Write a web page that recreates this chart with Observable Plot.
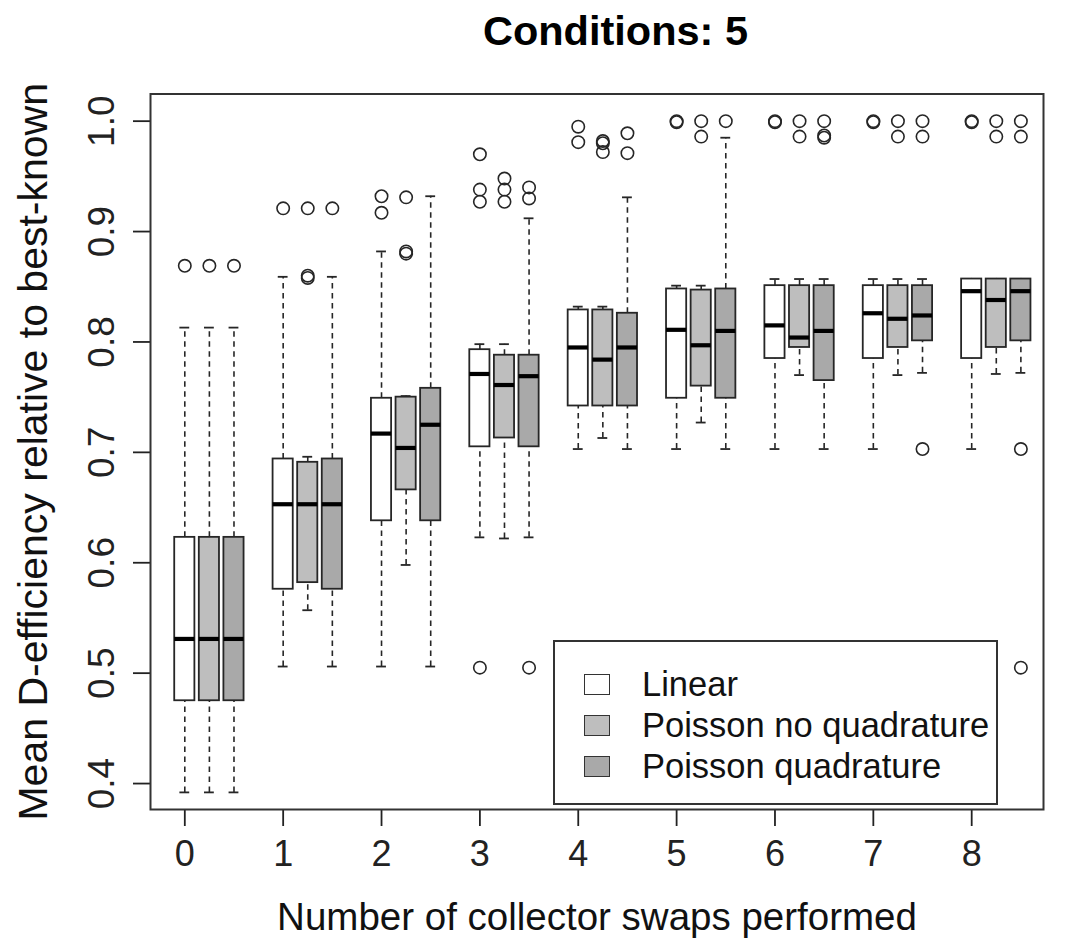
<!DOCTYPE html>
<html>
<head>
<meta charset="utf-8">
<script src="https://cdn.jsdelivr.net/npm/d3@7"></script>
<script src="https://cdn.jsdelivr.net/npm/@observablehq/plot@0.6"></script>
<style>
  html, body { margin: 0; padding: 0; background: #fff; }
  #wrap { position: relative; width: 1073px; height: 947px; font-family: "Liberation Sans", Arial, Helvetica, sans-serif; }
  #legend { position: absolute; box-sizing: border-box; border: 2px solid #333; background: #fff; }
  .row { position: absolute; display: flex; align-items: center; }
  .sw { box-sizing: border-box; border: 1.8px solid #333; }
  .lab { font-size: 34.5px; color: #111; white-space: nowrap; }
</style>
</head>
<body>
<div id="wrap"></div>
<script>
// ---- data ----
const groups = [0, 1, 2, 3, 4, 5, 6, 7, 8];
const tickLabels = ["0", "1", "2", "3", "4", "5", "6", "7", "8"];
const series = ["Linear", "Poisson no quadrature", "Poisson quadrature"];
const colors = ["#ffffff", "#bebebe", "#a9a9a9"];
const yTicks = [0.4, 0.5, 0.6, 0.7, 0.8, 0.9, 1.0];

// Linear
const linLo  = [0.392, 0.506, 0.506, 0.623, 0.703, 0.703, 0.703, 0.703, 0.703];
const linQ1  = [0.475, 0.576, 0.638, 0.705, 0.742, 0.749, 0.785, 0.785, 0.785];
const linMed = [0.531, 0.653, 0.717, 0.771, 0.795, 0.811, 0.815, 0.826, 0.846];
const linQ3  = [0.623, 0.694, 0.749, 0.793, 0.829, 0.848, 0.851, 0.851, 0.857];
const linHi  = [0.813, 0.859, 0.882, 0.798, 0.832, 0.851, 0.857, 0.857, 0.857];
const linOut = [[0.869], [0.921], [0.932, 0.917], [0.970, 0.938, 0.927, 0.505], [0.995, 0.981],
                [1.0, 0.999], [1.0, 0.999], [1.0, 0.999], [1.0, 0.999]];
// Poisson no quadrature
const pnqLo  = [0.392, 0.557, 0.598, 0.622, 0.713, 0.727, 0.770, 0.770, 0.771];
const pnqQ1  = [0.475, 0.582, 0.666, 0.713, 0.742, 0.760, 0.795, 0.795, 0.795];
const pnqMed = [0.531, 0.653, 0.704, 0.761, 0.784, 0.797, 0.804, 0.821, 0.838];
const pnqQ3  = [0.623, 0.691, 0.750, 0.788, 0.829, 0.847, 0.851, 0.851, 0.857];
const pnqHi  = [0.813, 0.696, 0.751, 0.798, 0.832, 0.851, 0.857, 0.857, 0.857];
const pnqOut = [[0.869], [0.921, 0.860, 0.858], [0.931, 0.882, 0.880], [0.948, 0.938, 0.927],
                [0.982, 0.980, 0.972], [1.0, 0.986], [1.0, 0.986], [1.0, 0.986], [1.0, 0.986]];
// Poisson quadrature
const pqLo  = [0.392, 0.506, 0.506, 0.623, 0.703, 0.703, 0.703, 0.772, 0.772];
const pqQ1  = [0.475, 0.576, 0.638, 0.705, 0.742, 0.749, 0.765, 0.801, 0.801];
const pqMed = [0.531, 0.653, 0.725, 0.769, 0.795, 0.810, 0.810, 0.824, 0.846];
const pqQ3  = [0.623, 0.694, 0.758, 0.788, 0.826, 0.848, 0.851, 0.851, 0.857];
const pqHi  = [0.813, 0.859, 0.932, 0.912, 0.931, 0.985, 0.857, 0.857, 0.857];
const pqOut = [[0.869], [0.921], [], [0.940, 0.930, 0.505], [0.989, 0.971], [1.0],
               [1.0, 0.987, 0.985], [1.0, 0.986, 0.703], [1.0, 0.986, 0.703, 0.505]];

const stats = [
  {lo: linLo, q1: linQ1, med: linMed, q3: linQ3, hi: linHi, out: linOut},
  {lo: pnqLo, q1: pnqQ1, med: pnqMed, q3: pnqQ3, hi: pnqHi, out: pnqOut},
  {lo: pqLo,  q1: pqQ1,  med: pqMed,  q3: pqQ3,  hi: pqHi,  out: pqOut}
];

// ---- tables ----
const rows = [];
const outs = [];
series.forEach((s, si) => {
  const st = stats[si];
  groups.forEach((g, gi) => {
    const u = 4 * g + si + 1;   // R boxplot "at" position
    rows.push({series: s, u, lo: st.lo[gi], q1: st.q1[gi], med: st.med[gi], q3: st.q3[gi], hi: st.hi[gi]});
    st.out[gi].forEach(v => outs.push({series: s, u, v}));
  });
});

const halfBox = 0.41, halfStaple = 0.2;
const ink = "#262626";

const chart = Plot.plot({
  width: 1073,
  height: 947,
  marginLeft: 150,
  marginRight: 30,
  marginTop: 93.5,
  marginBottom: 138,
  style: {fontFamily: '"Liberation Sans", Arial, Helvetica, sans-serif', background: "#fff", color: "#222", overflow: "visible"},
  x: {type: "linear", domain: [-0.395, 35.92]},
  y: {domain: [0.3765, 1.0246]},
  color: {domain: series, range: colors},
  marks: [
    // whiskers
    Plot.ruleX(rows, {x: "u", y1: "q3", y2: "hi", stroke: ink, strokeWidth: 1.6, strokeDasharray: "5.5,4.5"}),
    Plot.ruleX(rows, {x: "u", y1: "lo", y2: "q1", stroke: ink, strokeWidth: 1.6, strokeDasharray: "5.5,4.5"}),
    // staples
    Plot.ruleY(rows, {y: "hi", x1: d => d.u - halfStaple, x2: d => d.u + halfStaple, stroke: ink, strokeWidth: 1.8}),
    Plot.ruleY(rows, {y: "lo", x1: d => d.u - halfStaple, x2: d => d.u + halfStaple, stroke: ink, strokeWidth: 1.8}),
    // boxes
    Plot.rect(rows, {x1: d => d.u - halfBox, x2: d => d.u + halfBox, y1: "q1", y2: "q3", fill: "series", stroke: ink, strokeWidth: 1.8}),
    // medians
    Plot.ruleY(rows, {y: "med", x1: d => d.u - halfBox, x2: d => d.u + halfBox, stroke: "#000", strokeWidth: 4.2}),
    // outliers
    Plot.dot(outs, {x: "u", y: "v", r: 6.2, stroke: ink, strokeWidth: 1.6, fill: "none"}),
    // axes
    Plot.axisX({ticks: groups.map(g => 4 * g + 1), tickFormat: d => tickLabels[(d - 1) / 4], tickSize: 17, tickPadding: 14, fontSize: 36, strokeWidth: 1.8, label: null}),
    Plot.axisY({ticks: yTicks, tickFormat: d3.format(".1f"), tickSize: 17, tickPadding: 20, tickRotate: -90, fontSize: 37, strokeWidth: 1.8, label: null}),
    // axis titles and main title
    Plot.text(["Number of collector swaps performed"], {text: d => d, frameAnchor: "bottom", textAnchor: "middle", lineAnchor: "middle", dy: 108, fontSize: 38.5, fill: "#111"}),
    Plot.text(["Mean D-efficiency relative to best-known"], {text: d => d, frameAnchor: "left", textAnchor: "middle", lineAnchor: "middle", dx: -117, rotate: -90, fontSize: 41, fill: "#111"}),
    Plot.text(["Conditions: 5"], {text: d => d, frameAnchor: "top", textAnchor: "middle", lineAnchor: "middle", dx: 18.5, dy: -62, fontSize: 41.5, fontWeight: "bold", fill: "#000"}),
    Plot.frame({stroke: "#333", strokeWidth: 2})
  ]
});

const wrap = document.getElementById("wrap");
wrap.appendChild(chart);

// legend (inside the plotting region, like R's legend())
const legend = d3.select(wrap).append("div").attr("id", "legend")
  .style("left", "553px").style("top", "640px").style("width", "445px").style("height", "165px");
series.forEach((s, i) => {
  const row = legend.append("div").attr("class", "row")
    .style("left", "29px").style("top", `${30 + i * 41.3}px`).style("height", "24px");
  row.append("div").attr("class", "sw").style("width", "26px").style("height", "21px").style("background", colors[i]);
  row.append("div").attr("class", "lab").style("margin-left", "32px").text(s);
});
</script>
</body>
</html>
